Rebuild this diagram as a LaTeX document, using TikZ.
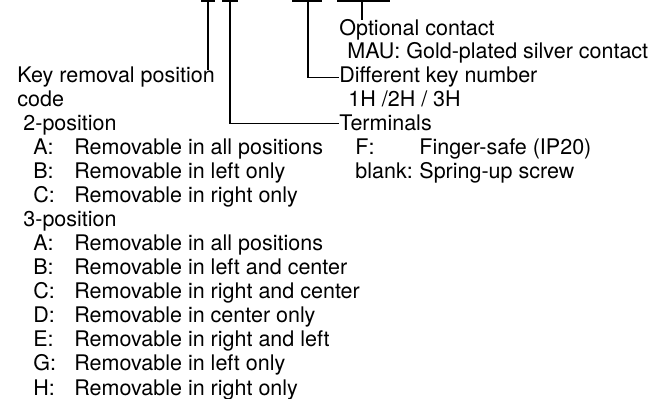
\documentclass[tikz,border=0pt]{standalone}
\usepackage{fontspec}
\setmainfont{TeX Gyre Heros}
\tikzset{
  txt/.style={anchor=base west, inner sep=0pt, font=\fontsize{10.75}{12}\selectfont},
  lead/.style={line width=0.6pt},
}
\begin{document}
\begin{tikzpicture}[x=0.5pt,y=-0.5pt]
    \useasboundingbox (0,0) rectangle (656,399);

    % Brackets over the code
    \draw[lead] (201,1) -- (215,1);
    \draw[lead] (222,1) -- (238,1);
    \draw[lead] (292,1) -- (322,1);
    \draw[lead] (337,1) -- (390,1);
    \coordinate (keystem) at (208,1);
    \coordinate (termstem) at (230,1);
    \coordinate (diffstem) at (308,1);
    \coordinate (optstem) at (362,1);
    \coordinate (keyend) at (208,70);

    % Key removal position code
    \node[txt] (keyrem) at (17,83) {Key removal position};
    \node[txt] (code) at (17,107) {code};
    \node[txt] (pos2) at (23,131) {2-position};
    \node[txt] (pa) at (33,155) {A:};
    \node[txt] (pad) at (74,155) {Removable in all positions};
    \node[txt] (pb) at (33,179) {B:};
    \node[txt] (pbd) at (74,179) {Removable in left only};
    \node[txt] (pc) at (33,203) {C:};
    \node[txt] (pcd) at (74,203) {Removable in right only};
    \node[txt] (pos3) at (23,227) {3-position};
    \node[txt] (qa) at (33,251) {A:};
    \node[txt] (qad) at (74,251) {Removable in all positions};
    \node[txt] (qb) at (33,275) {B:};
    \node[txt] (qbd) at (74,275) {Removable in left and center};
    \node[txt] (qc) at (33,299) {C:};
    \node[txt] (qcd) at (74,299) {Removable in right and center};
    \node[txt] (qd) at (33,323) {D:};
    \node[txt] (qdd) at (74,323) {Removable in center only};
    \node[txt] (qe) at (33,347) {E:};
    \node[txt] (qed) at (74,347) {Removable in right and left};
    \node[txt] (qg) at (33,371) {G:};
    \node[txt] (qgd) at (74,371) {Removable in left only};
    \node[txt] (qh) at (33,395) {H:};
    \node[txt] (qhd) at (74,395) {Removable in right only};

    % Right column
    \node[txt] (opt) at (339,36) {Optional contact};
    \node[txt] (mau) at (347,59) {MAU: Gold-plated silver contact};
    \node[txt] (diff) at (339,83) {Different key number};
    \node[txt] (keyno) at (348,107) {1H /2H / 3H};
    \node[txt] (term) at (339,131) {Terminals};
    \node[txt] (tf) at (355,155) {F:};
    \node[txt] (tfd) at (419,155) {Finger-safe (IP20)};
    \node[txt] (tb) at (355,179) {blank:};
    \node[txt] (tbd) at (419,179) {Spring-up screw};

    % Leaders
    \draw[lead] (keystem) -- (keyend);
    \draw[lead] (termstem) |- (term.west);
    \draw[lead] (diffstem) |- (diff.west);
    \draw[lead] (optstem) -- (optstem |- opt.north);
\end{tikzpicture}
\end{document}
